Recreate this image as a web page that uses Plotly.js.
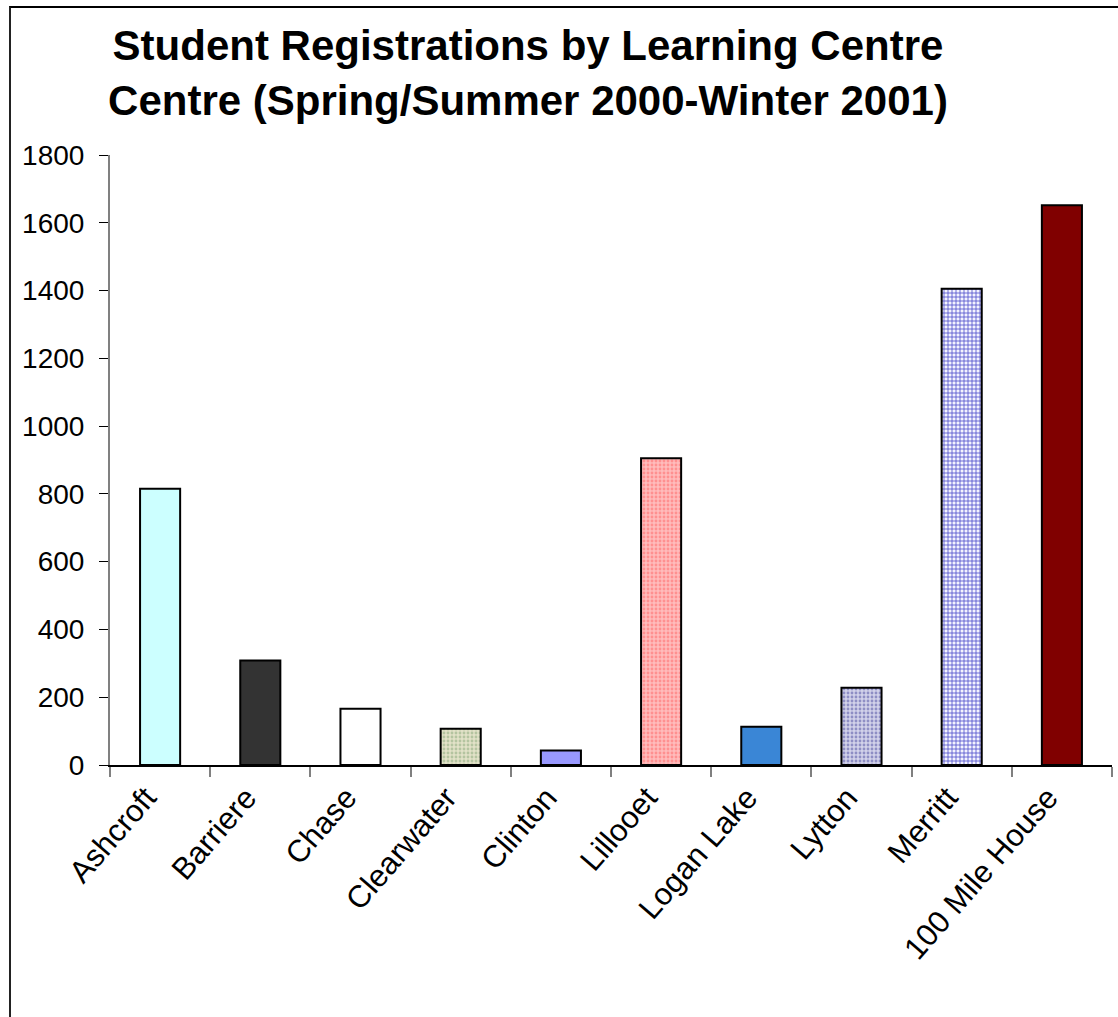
<!DOCTYPE html>
<html>
<head>
<meta charset="utf-8">
<script src="https://cdn.plot.ly/plotly-3.0.1.min.js"></script>
<style>
  html, body { margin: 0; padding: 0; background: #fff; overflow: hidden; }
  #chart { width: 1118px; height: 1017px; position: absolute; left: 0; top: 0; }
  #frame { position: absolute; left: 9px; top: 6px; width: 2000px; height: 2000px;
           border-left: 2px solid #222; border-top: 2px solid #000; pointer-events: none; }
</style>
</head>
<body>
<div id="chart"></div>
<div id="frame"></div>
<script>
const centres = ["Ashcroft", "Barriere", "Chase", "Clearwater", "Clinton", "Lillooet",
                 "Logan Lake", "Lytton", "Merritt", "100 Mile House"];
const registrations = [815, 308, 166, 107, 43, 905, 113, 228, 1405, 1652];
const yTicks = [0, 200, 400, 600, 800, 1000, 1200, 1400, 1600, 1800];

const barColors = ["#ccffff", "#333333", "#ffffff", "#e2e2c8", "#9999ff", "#ffbcbc",
                   "#3a86d6", "#d2d2ea", "#f4f4ff", "#800000"];
const patShapes = ["", "", "", ".", "", ".", "", ".", "+", ""];
const patFg     = ["", "", "", "#b4c4a0", "", "#ff9090", "", "#8e8ec4", "#4848c8", ""];

const traces = centres.map(function (name, i) {
  const marker = {
    color: barColors[i],
    line: { color: "#000000", width: 2 }
  };
  if (patShapes[i]) {
    marker.pattern = {
      shape: patShapes[i],
      fgcolor: patFg[i],
      bgcolor: barColors[i],
      fgopacity: 1,
      size: 4,
      solidity: patShapes[i] === "+" ? 0.35 : 0.4,
      fillmode: "replace"
    };
  }
  return {
    type: "bar",
    name: name,
    x: [name],
    y: [registrations[i]],
    marker: marker,
    hoverinfo: "x+y"
  };
});

const layout = {
  width: 1118,
  height: 1017,
  paper_bgcolor: "#ffffff",
  plot_bgcolor: "#ffffff",
  showlegend: false,
  barmode: "overlay",
  bargap: 0.6,
  margin: { l: 110, r: 6, t: 155, b: 252 },
  font: { family: "Liberation Sans, Arial, sans-serif", color: "#000" },
  title: {
    text: "<b>Student Registrations by Learning Centre<br>Centre (Spring/Summer 2000-Winter 2001)</b>",
    font: { family: "Liberation Sans, Arial, sans-serif", size: 42, color: "#000" },
    x: 528 / 1118,
    xref: "container",
    xanchor: "center",
    y: 1 - 60 / 1017,
    yref: "container",
    yanchor: "middle"
  },
  xaxis: {
    type: "category",
    categoryorder: "array",
    categoryarray: centres,
    tickson: "boundaries",
    ticks: "outside",
    ticklen: 10,
    tickcolor: "#808080",
    tickwidth: 2,
    showline: true,
    linecolor: "#000000",
    linewidth: 2,
    showgrid: false,
    zeroline: false,
    tickangle: -49,
    ticklabelshift: -14,
    tickfont: { size: 31, color: "#000" }
  },
  yaxis: {
    range: [0, 1800],
    tickvals: yTicks,
    ticktext: yTicks.map(String),
    ticks: "outside",
    ticklen: 9,
    tickcolor: "#000000",
    tickwidth: 1,
    showline: true,
    linecolor: "#808080",
    linewidth: 2,
    showgrid: false,
    zeroline: false,
    ticklabelstandoff: 9,
    tickfont: { size: 28, color: "#000" }
  }
};

Plotly.newPlot("chart", traces, layout, { displayModeBar: false, staticPlot: true });
</script>
</body>
</html>
